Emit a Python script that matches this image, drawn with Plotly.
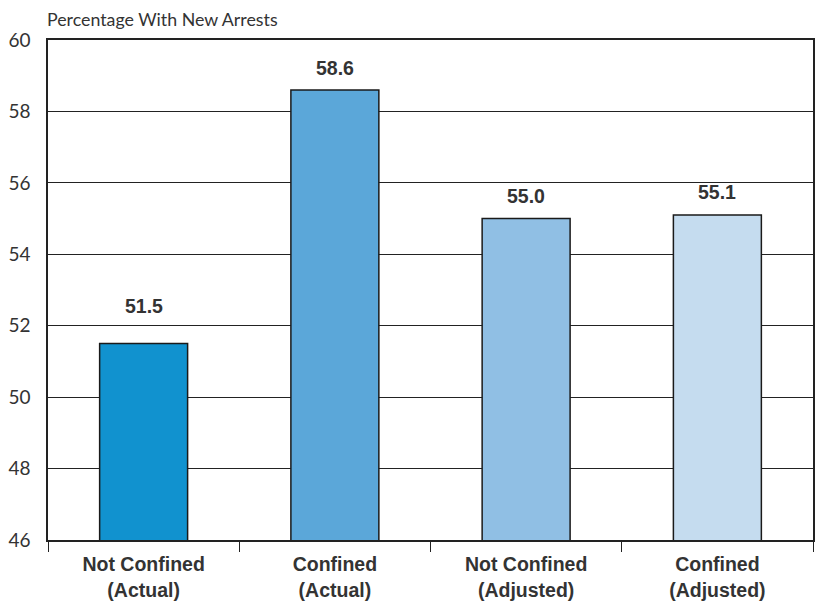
import plotly.graph_objects as go

categories = ["Not Confined<br>(Actual)", "Confined<br>(Actual)",
              "Not Confined<br>(Adjusted)", "Confined<br>(Adjusted)"]
values = [51.5, 58.6, 55.0, 55.1]
value_labels = ["51.5", "58.6", "55.0", "55.1"]
y_ticks = [46, 48, 50, 52, 54, 56, 58, 60]
bar_colors = ["#1192CF", "#5BA7D9", "#90BFE4", "#C5DCEF"]
label_shift = [25, 9, 10, 10]

fig = go.Figure()
fig.add_trace(go.Bar(
    x=categories, y=values,
    marker=dict(color=bar_colors, line=dict(color="#1a1a1a", width=1.5)),
    width=0.46, hoverinfo="skip",
))

for c, v, t, s in zip(categories, values, value_labels, label_shift):
    fig.add_annotation(x=c, y=v, text="<b>" + t + "</b>", showarrow=False,
                       yanchor="bottom", yshift=s,
                       font=dict(family="Liberation Sans, Arial", size=19.5, color="#333333"))

fig.update_layout(
    width=817, height=604,
    margin=dict(l=48, r=2, t=40, b=64),
    plot_bgcolor="white", paper_bgcolor="white",
    showlegend=False,
    title=dict(text="Percentage With New Arrests", x=47/817, xanchor="left",
               y=1-20/604, yanchor="middle", xref="container", yref="container",
               font=dict(family="Lato, Open Sans", size=17.8, color="#333333")),
    bargap=0.54,
)
fig.update_yaxes(range=[46, 60], tickvals=y_ticks, showgrid=True,
                 gridcolor="#222222", gridwidth=1.3, showline=True,
                 linecolor="#222222", linewidth=1.5, mirror=True,
                 ticks="", ticklabelstandoff=12, zeroline=False,
                 tickfont=dict(family="Lato, Open Sans", size=19, color="#333333"),
                 layer="below traces")
fig.update_xaxes(showline=True, linecolor="#222222", linewidth=1.5, mirror=True,
                 ticks="outside", tickson="boundaries", ticklen=10,
                 tickcolor="#222222", tickwidth=1.3,
                 tickprefix="<b>", ticksuffix="</b>",
                 tickfont=dict(family="Liberation Sans, Arial", size=19.5, color="#333333"),
                 ticklabelstandoff=6)

fig.write_html("out.html")
